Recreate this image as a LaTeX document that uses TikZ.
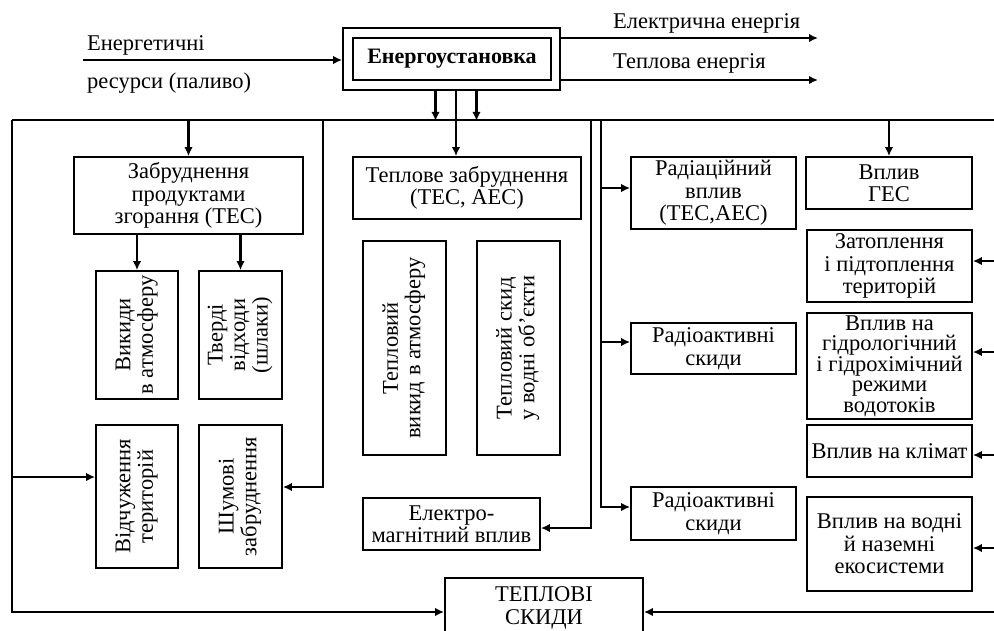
\documentclass[tikz,border=0pt]{standalone}
\usepackage{graphicx}
\usepackage{fontspec}
\setmainfont{Liberation Serif}
\usetikzlibrary{arrows.meta}

\newcommand{\vtekst}[1]{\rotatebox{90}{\begin{tabular}{@{}c@{}}#1\end{tabular}}}

\tikzset{
  blok/.style={draw, line width=1.8pt, align=center, inner sep=0pt,
    font=\fontsize{22.5}{22.5}\selectfont},
  tekst/.style={font=\fontsize{22.5}{22.5}\selectfont, inner sep=0pt, anchor=west},
  lin/.style={line width=1.8pt},
  strilka/.style={line width=2.2pt, ->},
}

\begin{document}
\begin{tikzpicture}[x=1pt, y=-1pt, >={Latex[length=9pt,width=8.5pt]}]
    \useasboundingbox (0,0) rectangle (994,630);
    \clip (0,0) rectangle (994,630);

    % Енергоустановка
    \node[draw, line width=1.8pt, minimum width=217pt, minimum height=62pt] (ust) at (451.5,59) {};
    \node[blok, minimum width=198pt, minimum height=42pt, font=\fontsize{22}{22.5}\selectfont\bfseries] (ustin) at (452,59) {Енергоустановка};

    % Вхід і виходи
    \node[tekst] (resurs1) at (87,45) {Енергетичні};
    \node[tekst] (resurs2) at (87,83) {ресурси (паливо)};
    \coordinate (vhid) at (83,60);
    \draw[strilka] (vhid) -- (ust.west |- vhid);

    \node[tekst] (eltxt) at (613,23) {Електрична енергія};
    \node[tekst] (tepltxt) at (613,63) {Теплова енергія};
    \coordinate (elkin) at (818,38);
    \coordinate (teplkin) at (818,80);
    \draw[strilka] (ust.east |- elkin) -- (elkin);
    \draw[strilka] (ust.east |- teplkin) -- (teplkin);

    % Ліва гілка
    \node[blok, minimum width=229pt, minimum height=77pt] (zabr) at (188.5,195.5) {Забруднення\\продуктами\\згорання (ТЕС)};
    \node[blok, minimum width=82pt, minimum height=128pt] (vykydy) at (137,335) {\vtekst{Викиди\\в атмосферу}};
    \node[blok, minimum width=83pt, minimum height=128pt] (tverdi) at (240.5,335) {\vtekst{Тверді\\відходи\\(шлаки)}};
    \node[blok, minimum width=82pt, minimum height=143pt] (vidch) at (137,496.5) {\vtekst{Відчуження\\територій}};
    \node[blok, minimum width=83pt, minimum height=143pt] (shum) at (240.5,496.5) {\vtekst{Шумові\\забруднення}};

    % Центральна гілка
    \node[blok, minimum width=228pt, minimum height=62pt] (teplove) at (467,188) {Теплове забруднення\\(ТЕС, АЕС)};
    \node[blok, minimum width=83pt, minimum height=214pt] (tvykyd) at (404.5,348) {\vtekst{Тепловий\\викид в атмосферу}};
    \node[blok, minimum width=83pt, minimum height=214pt] (tskyd) at (518.5,348) {\vtekst{Тепловий скид\\у водні об’єкти}};
    \node[blok, minimum width=177pt, minimum height=52pt] (elektro) at (451.5,524) {Електро-\\магнітний вплив};
    \node[blok, minimum width=198pt, minimum height=60pt] (skydy) at (544,608) {ТЕПЛОВІ\\СКИДИ};

    % Права гілка
    \node[blok, minimum width=165pt, minimum height=72pt] (rad1) at (713.5,193) {Радіаційний\\вплив\\(ТЕС,АЕС)};
    \node[blok, minimum width=165pt, minimum height=51pt] (rad2) at (713.5,348.5) {Радіоактивні\\скиди};
    \node[blok, minimum width=165pt, minimum height=53pt] (rad3) at (713.5,513.5) {Радіоактивні\\скиди};
    \node[blok, minimum width=166pt, minimum height=52pt] (ges) at (889,183) {Вплив\\ГЕС};
    \node[blok, minimum width=165pt, minimum height=72pt] (zatop) at (889.5,266) {Затоплення\\і підтоплення\\територій};
    \node[blok, minimum width=165pt, minimum height=106pt, font=\fontsize{22.5}{20.5}\selectfont] (gidro) at (889.5,366) {Вплив на\\гідрологічний\\і гідрохімічний\\режими\\водотоків};
    \node[blok, minimum width=165pt, minimum height=52pt] (klimat) at (889.5,451) {Вплив на клімат};
    \node[blok, minimum width=165pt, minimum height=94pt] (vodni) at (889.5,544) {Вплив на водні\\й наземні\\екосистеми};

    % Шина
    \coordinate (shynaL) at (12,120);
    \coordinate (shynaR) at (1000,120);
    \draw[lin] (shynaL) -- (shynaR);
    \foreach \dx in {-16,25}
        \draw[strilka] ([xshift=\dx pt]ust.south) -- ++(0,30);
    \draw[strilka] ([xshift=4.5pt]ust.south) -- ([xshift=-11pt]teplove.north);

    % Лівий край і низ
    \coordinate (nyz) at (12,612);
    \draw[strilka] (shynaL) -- (nyz) -- (skydy.west |- nyz);
    \coordinate (vidchL) at (12,477);
    \draw[strilka] (vidchL) -- (vidch.west |- vidchL);
    \draw[strilka] (zabr.north |- shynaL) -- (zabr.north);
    \draw[strilka] (vykydy.north |- zabr.south) -- (vykydy.north);
    \draw[strilka] (tverdi.north |- zabr.south) -- (tverdi.north);
    \coordinate (l323) at (323,120);
    \coordinate (k323) at (323,487);
    \draw[strilka] (l323) -- (k323) -- (shum.east |- k323);

    % Вертикалі праворуч від центру
    \coordinate (l591) at (591,120);
    \coordinate (k591) at (591,528);
    \draw[strilka] (l591) -- (k591) -- (elektro.east |- k591);
    \coordinate (l601) at (601,120);
    \coordinate (k601) at (601,507);
    \draw[strilka] (l601) -- (k601) -- (rad3.west |- k601);
    \coordinate (r1) at ([yshift=5pt]rad1.west);
    \coordinate (r2) at ([yshift=6.5pt]rad2.west);
    \draw[strilka] (l601 |- r1) -- (r1);
    \draw[strilka] (l601 |- r2) -- (r2);
    \draw[strilka] (ges.north |- shynaL) -- (ges.north);

    % Стрілки з правого краю
    \coordinate (prav) at (1000,0);
    \foreach \n/\dy in {zatop/5, gidro/14, klimat/-4, vodni/-4, skydy/-4} {
        \coordinate (\n-v) at ([yshift=\dy pt]\n.east);
        \draw[strilka] (prav |- \n-v) -- (\n-v);
    }
\end{tikzpicture}
\end{document}
